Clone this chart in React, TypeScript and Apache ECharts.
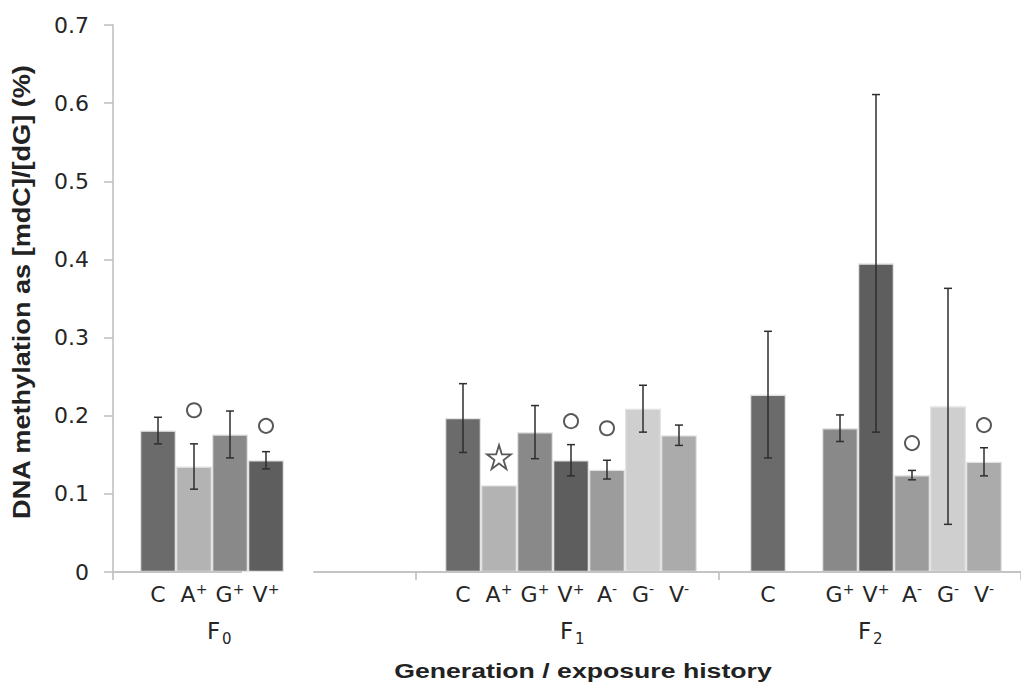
import React, { useEffect, useRef } from "react";
import * as echarts from "echarts";

// ---- data ----
const slotCount = 7;
const yMin = 0;
const yMax = 0.7;
const yStep = 0.1;

const panelLetters = ["F", "F", "F"];
const panelSubscripts = ["0", "1", "2"];

const f0Labels = ["C", "A⁺", "G⁺", "V⁺", "", "", ""];
const f0Means = [0.181, 0.135, 0.176, 0.143, null, null, null];
const f0Errors = [0.017, 0.029, 0.030, 0.011, null, null, null];
const f0Circles = [null, 0.207, null, 0.187, null, null, null];
const f0Stars = [null, null, null, null, null, null, null];

const f1Labels = ["C", "A⁺", "G⁺", "V⁺", "A⁻", "G⁻", "V⁻"];
const f1Means = [0.197, 0.111, 0.179, 0.143, 0.131, 0.209, 0.175];
const f1Errors = [0.044, 0, 0.034, 0.020, 0.012, 0.030, 0.013];
const f1Circles = [null, null, null, 0.193, 0.184, null, null];
const f1Stars = [null, 0.147, null, null, null, null, null];

const f2Labels = ["C", "", "G⁺", "V⁺", "A⁻", "G⁻", "V⁻"];
const f2Means = [0.227, null, 0.184, 0.395, 0.124, 0.212, 0.141];
const f2Errors = [0.081, null, 0.017, 0.216, 0.006, 0.151, 0.018];
const f2Circles = [null, null, null, null, 0.165, null, 0.188];
const f2Stars = [null, null, null, null, null, null, null];

const yTitle = "DNA methylation as [mdC]/[dG] (%)";
const xTitle = "Generation / exposure history";

// ---- styles ----
const barColors: Record<string, string> = {
  C: "#6b6b6b",
  "A⁺": "#b3b3b3",
  "G⁺": "#898989",
  "V⁺": "#5e5e5e",
  "A⁻": "#9c9c9c",
  "G⁻": "#cfcfcf",
  "V⁻": "#ababab",
};

const STAR =
  "path://M50,4 L61.2,38.2 L97.6,38.4 L68.1,59.7 L79.4,94.1 L50,72.8 L20.6,94.1 L31.9,59.7 L2.4,38.4 L38.8,38.2 Z";

const panels = [
  { labels: f0Labels, means: f0Means, errors: f0Errors, circles: f0Circles, stars: f0Stars },
  { labels: f1Labels, means: f1Means, errors: f1Errors, circles: f1Circles, stars: f1Stars },
  { labels: f2Labels, means: f2Means, errors: f2Errors, circles: f2Circles, stars: f2Stars },
];

const PANEL_W = 305;
const AXIS_X = 113;
const INNER_OFF = 27;
const SLOT = 36;
const TOP = 25;
const BOTTOM = 118;
const FONT = "DejaVu Sans";
const TEXT = "#262626";

function labelRich(v: string) {
  if (v.startsWith("empty")) return "";
  return v.replace("⁺", "{s|+}").replace("⁻", "{s|-}");
}

function buildOption() {
  const grids: any[] = [{ left: AXIS_X, right: 1021 - AXIS_X - PANEL_W * 3, top: TOP, bottom: BOTTOM }];
  const xAxes: any[] = [
    {
      type: "value",
      gridIndex: 0,
      min: 0,
      max: 3,
      interval: 1,
      axisLine: { show: false },
      axisTick: { show: true, length: 8, lineStyle: { color: "#b8b8b8", width: 1.5 } },
      axisLabel: { show: false },
      splitLine: { show: false },
    },
  ];
  const yAxes: any[] = [
    {
      type: "value",
      gridIndex: 0,
      min: yMin,
      max: yMax,
      interval: yStep,
      axisLine: { show: true, lineStyle: { color: "#bdbdbd", width: 1.5 } },
      axisTick: { show: true, length: 9, lineStyle: { color: "#bdbdbd", width: 1.5 } },
      axisLabel: { margin: 24, fontSize: 22, fontFamily: FONT, color: TEXT },
      splitLine: { show: false },
    },
  ];
  const series: any[] = [
    {
      type: "line",
      xAxisIndex: 0,
      yAxisIndex: 0,
      data: [
        [0, 0],
        [0.426, 0],
      ],
      symbol: "none",
      silent: true,
      clip: false,
      z: 5,
      lineStyle: { color: "#c4c4c4", width: 2 },
    },
    {
      type: "line",
      xAxisIndex: 0,
      yAxisIndex: 0,
      data: [
        [0.662, 0],
        [3, 0],
      ],
      symbol: "none",
      silent: true,
      clip: false,
      z: 5,
      lineStyle: { color: "#c4c4c4", width: 2 },
    },
  ];

  panels.forEach((p, i) => {
    const gi = i + 1;
    grids.push({ left: AXIS_X + INNER_OFF + PANEL_W * i, width: SLOT * slotCount, top: TOP, bottom: BOTTOM });
    const axisData = Array.from({ length: slotCount }, (_, k) => (p.labels[k] ? p.labels[k] : `empty${k}`));
    xAxes.push({
      type: "category",
      gridIndex: gi,
      data: axisData,
      axisLine: { show: false },
      axisTick: { show: false },
      axisLabel: {
        interval: 0,
        margin: 10,
        fontSize: 22,
        fontFamily: FONT,
        color: TEXT,
        lineHeight: 25,
        formatter: (v: string) => labelRich(v),
        rich: {
          s: { fontSize: 14, fontFamily: FONT, color: TEXT, verticalAlign: "top", lineHeight: 15 },
        },
      },
    });
    yAxes.push({ type: "value", gridIndex: gi, min: yMin, max: yMax, interval: yStep, show: false });

    series.push({
      type: "bar",
      xAxisIndex: gi,
      yAxisIndex: gi,
      barWidth: SLOT,
      data: p.means.map((v, k) =>
        v == null
          ? "-"
          : { value: v, itemStyle: { color: barColors[p.labels[k]], borderColor: "#e3e3e3", borderWidth: 1.3 } }
      ),
      z: 2,
    });

    const errData: any[] = [];
    p.means.forEach((m, k) => {
      const e = p.errors[k];
      if (m != null && e != null && e > 0) errData.push([k, m, e]);
    });
    series.push({
      type: "custom",
      xAxisIndex: gi,
      yAxisIndex: gi,
      data: errData,
      z: 6,
      silent: true,
      renderItem: (_params: any, api: any) => {
        const x = api.value(0);
        const m = api.value(1);
        const e = api.value(2);
        const top = api.coord([x, m + e]);
        const bot = api.coord([x, m - e]);
        const hw = 4;
        const st = { stroke: "#2e2e2e", lineWidth: 1.5 };
        return {
          type: "group",
          children: [
            { type: "line", shape: { x1: top[0], y1: top[1], x2: bot[0], y2: bot[1] }, style: st },
            { type: "line", shape: { x1: top[0] - hw, y1: top[1], x2: top[0] + hw, y2: top[1] }, style: st },
            { type: "line", shape: { x1: bot[0] - hw, y1: bot[1], x2: bot[0] + hw, y2: bot[1] }, style: st },
          ],
        };
      },
    });

    const circleData: any[] = [];
    p.circles.forEach((v, k) => {
      if (v != null) circleData.push([k, v]);
    });
    series.push({
      type: "scatter",
      xAxisIndex: gi,
      yAxisIndex: gi,
      data: circleData,
      symbol: "circle",
      symbolSize: 14,
      z: 7,
      silent: true,
      itemStyle: { color: "#ffffff", borderColor: "#2e2e2e", borderWidth: 2 },
    });

    const starData: any[] = [];
    p.stars.forEach((v, k) => {
      if (v != null) starData.push([k, v]);
    });
    series.push({
      type: "scatter",
      xAxisIndex: gi,
      yAxisIndex: gi,
      data: starData,
      symbol: STAR,
      symbolSize: 24,
      z: 7,
      silent: true,
      itemStyle: { color: "#ffffff", borderColor: "#2e2e2e", borderWidth: 1.8 },
    });
  });

  const fLabelX = [207, 560, 858];
  const graphic: any[] = [
    {
      type: "text",
      x: 22,
      y: 292,
      rotation: Math.PI / 2,
      scaleX: 1.13,
      style: {
        text: yTitle,
        fontSize: 24,
        fontWeight: "bold",
        fontFamily: "Liberation Sans",
        fill: "#222",
        align: "center",
        verticalAlign: "middle",
      },
    },
    {
      type: "text",
      x: 583,
      y: 671,
      scaleX: 1.3,
      style: {
        text: xTitle,
        fontSize: 20.5,
        fontWeight: "bold",
        fontFamily: "Liberation Sans",
        fill: "#222",
        align: "center",
        verticalAlign: "middle",
      },
    },
  ];
  panelLetters.forEach((letter, i) => {
    graphic.push({
      type: "text",
      x: fLabelX[i],
      y: 619,
      style: { text: letter, fontSize: 23, fontFamily: FONT, fill: TEXT, align: "left", verticalAlign: "top" },
    });
    graphic.push({
      type: "text",
      x: fLabelX[i] + 15,
      y: 631,
      style: {
        text: panelSubscripts[i],
        fontSize: 15,
        fontFamily: FONT,
        fill: TEXT,
        align: "left",
        verticalAlign: "top",
      },
    });
  });

  return {
    animation: false,
    backgroundColor: "#ffffff",
    grid: grids,
    xAxis: xAxes,
    yAxis: yAxes,
    series,
    graphic,
  };
}

export default function App() {
  const ref = useRef<HTMLDivElement>(null);
  useEffect(() => {
    if (!ref.current) return;
    const chart = echarts.init(ref.current, undefined, { renderer: "svg" });
    chart.setOption(buildOption() as any);
    return () => chart.dispose();
  }, []);
  return <div ref={ref} style={{ width: 1021, height: 690, position: "absolute", left: 0, top: 0 }} />;
}
